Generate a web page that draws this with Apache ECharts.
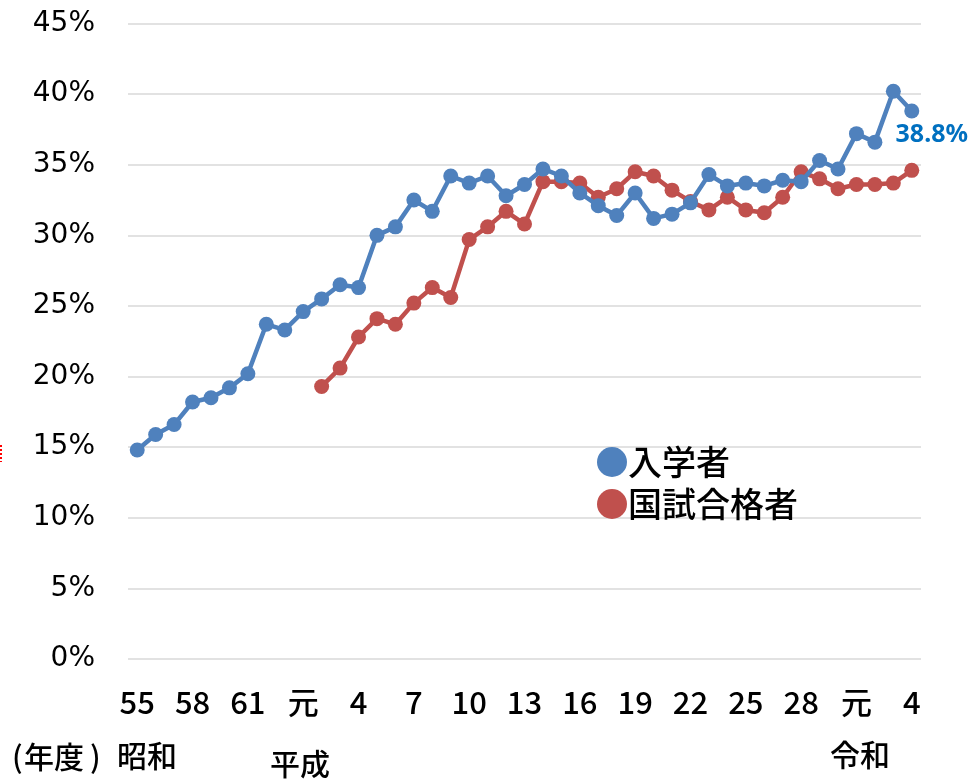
<!DOCTYPE html>
<html>
<head>
<meta charset="utf-8">
<script src="https://cdn.jsdelivr.net/npm/echarts@6/dist/echarts.min.js"></script>
<style>
  html, body { margin: 0; padding: 0; background: #fff; }
  #chart { width: 969px; height: 783px; }
</style>
</head>
<body>
<div id="chart"></div>
<script>
// 年度ラベル（昭和55〜63、平成元〜30、令和元〜4）
const years = [
  '55','56','57','58','59','60','61','62','63',
  '元','2','3','4','5','6','7','8','9','10','11','12','13','14','15','16','17','18','19','20','21','22','23','24','25','26','27','28','29','30',
  '元','2','3','4'
];

// 入学者の割合（%）
const entrants = [
  14.8, 15.9, 16.6, 18.2, 18.5, 19.2, 20.2, 23.7, 23.3,
  24.6, 25.5, 26.5, 26.3, 30.0, 30.6, 32.5, 31.7, 34.2, 33.7,
  34.2, 32.8, 33.6, 34.7, 34.2, 33.0, 32.1, 31.4, 33.0, 31.2,
  31.5, 32.3, 34.3, 33.5, 33.7, 33.5, 33.9, 33.8, 35.3, 34.7,
  37.2, 36.6, 40.2, 38.8
];

// 国試合格者の割合（%）平成2年度から
const passers = [
  null, null, null, null, null, null, null, null, null,
  null, 19.3, 20.6, 22.8, 24.1, 23.7, 25.2, 26.3, 25.6, 29.7,
  30.6, 31.7, 30.8, 33.8, 33.8, 33.7, 32.7, 33.3, 34.5, 34.2,
  33.2, 32.4, 31.8, 32.7, 31.8, 31.6, 32.7, 34.5, 34.0, 33.3,
  33.6, 33.6, 33.7, 34.6
];

const yTicks = { min: 0, max: 45, step: 5 };

const BLUE = '#4F81BD';
const RED = '#C0504D';
const CJK = '"Noto Sans CJK JP", sans-serif';

const chart = echarts.init(document.getElementById('chart'));

const lastIdx = entrants.length - 1;
const entrantData = entrants.map((v, i) => i === lastIdx ? {
  value: v,
  label: {
    show: true,
    position: 'bottom',
    distance: 2,
    offset: [20, 2],
    formatter: p => p.value.toFixed(1) + '%',
    color: '#0070C0',
    fontSize: 25,
    fontWeight: 'bold',
    fontFamily: '"Noto Sans", sans-serif'
  }
} : v);

const eraFont = '500 30px ' + CJK;

chart.setOption({
  animation: false,
  backgroundColor: '#ffffff',
  grid: { left: 128, right: 48, top: 23.5, bottom: 124, containLabel: false },
  legend: {
    orient: 'vertical',
    left: 592,
    top: 440,
    icon: 'circle',
    itemWidth: 30,
    itemHeight: 30,
    itemGap: 8,
    textStyle: { fontSize: 34, fontWeight: 500, color: '#000', fontFamily: CJK, padding: [0, 0, 0, -4] },
    data: ['入学者', '国試合格者']
  },
  xAxis: {
    type: 'category',
    data: years,
    boundaryGap: true,
    axisLine: { show: false },
    axisTick: { show: false },
    axisLabel: {
      interval: 2,
      margin: 28,
      fontSize: 31,
      fontWeight: 500,
      color: '#000',
      fontFamily: CJK
    }
  },
  yAxis: {
    type: 'value',
    min: yTicks.min,
    max: yTicks.max,
    interval: yTicks.step,
    axisLine: { show: false },
    axisTick: { show: false },
    axisLabel: {
      formatter: '{value}%',
      margin: 33,
      fontSize: 28,
      color: '#000',
      fontFamily: '"DejaVu Sans", sans-serif'
    },
    splitLine: { lineStyle: { color: '#d9d9d9', width: 1.5 } }
  },
  series: [
    {
      name: '入学者',
      type: 'line',
      data: entrantData,
      symbol: 'circle',
      symbolSize: 15,
      showSymbol: true,
      showAllSymbol: true,
      itemStyle: { color: BLUE },
      lineStyle: { color: BLUE, width: 4.5 },
      z: 3
    },
    {
      name: '国試合格者',
      type: 'line',
      data: passers,
      symbol: 'circle',
      symbolSize: 15,
      showSymbol: true,
      showAllSymbol: true,
      connectNulls: false,
      itemStyle: { color: RED },
      lineStyle: { color: RED, width: 4.5 },
      z: 2
    }
  ],
  graphic: [
    // (年度) — 括弧を少し離して配置
    { type: 'text', left: 12, top: 742, style: { text: '(', fill: '#000', font: eraFont } },
    { type: 'text', left: 24, top: 742, style: { text: '年度', fill: '#000', font: eraFont } },
    { type: 'text', left: 90, top: 742, style: { text: ')', fill: '#000', font: eraFont } },
    { type: 'text', left: 117, top: 741, style: { text: '昭和', fill: '#000', font: eraFont } },
    { type: 'text', left: 270, top: 749, style: { text: '平成', fill: '#000', font: eraFont } },
    { type: 'text', left: 830, top: 740, style: { text: '令和', fill: '#000', font: eraFont } },
    { type: 'line', shape: { x1: 1, y1: 445, x2: 1, y2: 462 }, style: { stroke: '#ff0000', lineWidth: 2, lineDash: [2, 2] } }
  ]
});
</script>
</body>
</html>
